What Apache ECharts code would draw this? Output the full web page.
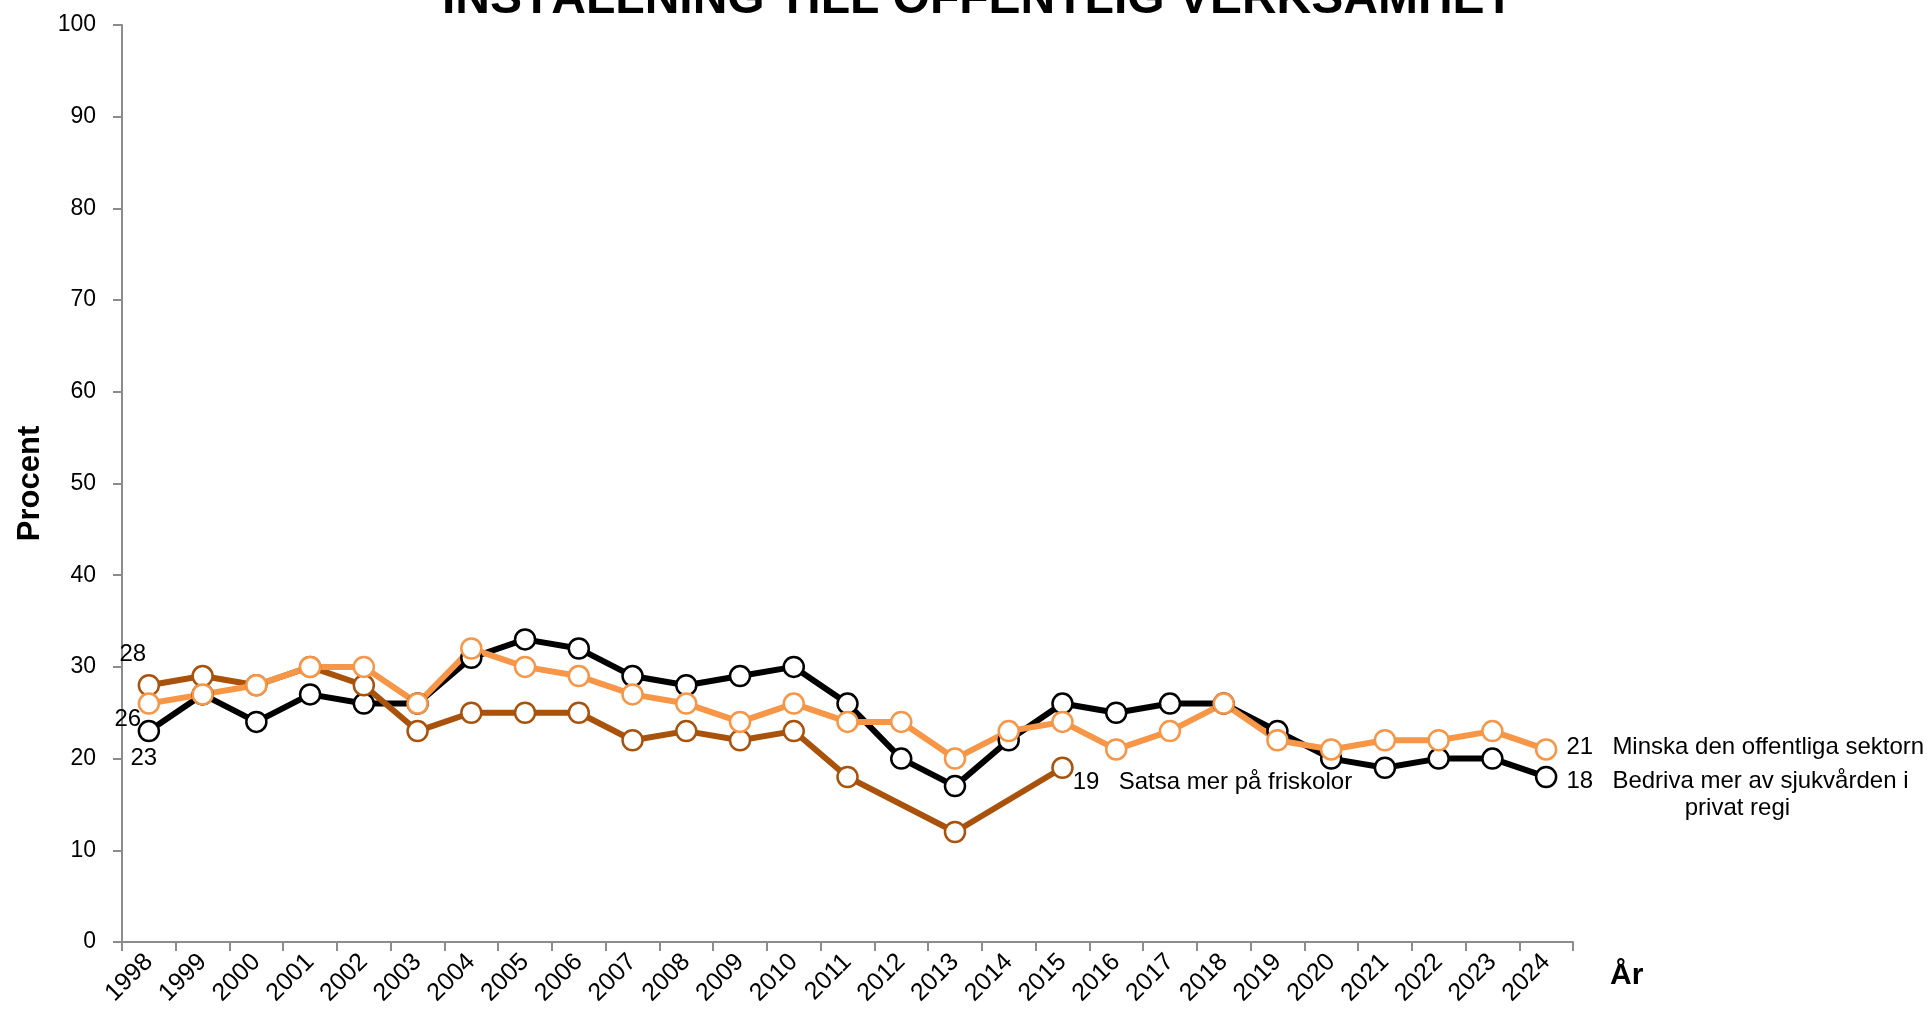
<!DOCTYPE html>
<html style="height: 100%">
<head>
    <meta charset="utf-8">
    <script src="https://cdn.jsdelivr.net/npm/echarts@6/dist/echarts.min.js"></script>
</head>
<body style="height: 100%; margin: 0; background: #fff">
    <div id="container" style="width: 1927px; height: 1016px"></div>
    <script type="text/javascript">
        var years = ['1998', '1999', '2000', '2001', '2002', '2003', '2004', '2005', '2006', '2007', '2008', '2009', '2010',
            '2011', '2012', '2013', '2014', '2015', '2016', '2017', '2018', '2019', '2020', '2021', '2022', '2023', '2024'];
        var yTicks = [0, 10, 20, 30, 40, 50, 60, 70, 80, 90, 100];

        // Bedriva mer av sjukvården i privat regi
        var privatRegi = [23, 27, 24, 27, 26, 26, 31, 33, 32, 29, 28, 29, 30, 26, 20, 17, 22, 26, 25, 26, 26, 23, 20, 19, 20, 20, 18];
        // Satsa mer på friskolor (saknas 2012, 2014 och efter 2015)
        var friskolor = [28, 29, 28, 30, 28, 23, 25, 25, 25, 22, 23, 22, 23, 18, null, 12, null, 19];
        // Minska den offentliga sektorn
        var minskaOffentlig = [26, 27, 28, 30, 30, 26, 32, 30, 29, 27, 26, 24, 26, 24, 24, 20, 23, 24, 21, 23, 26, 22, 21, 22, 22, 23, 21];

        var names = {
            privat: 'Bedriva mer av sjukvården i',
            privat2: 'privat regi',
            fri: 'Satsa mer på friskolor',
            minska: 'Minska den offentliga sektorn'
        };

        var FONT = '"Liberation Sans", Arial, sans-serif';
        var LABEL_SIZE = 24;

        function richStyle() {
            return {
                n: { fontSize: LABEL_SIZE, fontFamily: FONT, color: '#000', width: 46, lineHeight: 27 },
                t: { fontSize: LABEL_SIZE, fontFamily: FONT, color: '#000', lineHeight: 27, align: 'center' }
            };
        }

        // lägger etiketter på första och sista punkten
        function withLabels(values, startOffset, endFormatter, endOffset) {
            var lastIdx = -1;
            values.forEach(function (v, i) { if (v != null) lastIdx = i; });
            return values.map(function (v, i) {
                if (v == null) return null;
                if (i === 0) {
                    return {
                        value: v,
                        label: {
                            show: true, position: 'inside', offset: startOffset,
                            formatter: String(v), fontSize: LABEL_SIZE, fontFamily: FONT, color: '#000'
                        }
                    };
                }
                if (i === lastIdx) {
                    return {
                        value: v,
                        label: {
                            show: true, position: 'right', distance: 9, offset: endOffset,
                            formatter: endFormatter(v), rich: richStyle()
                        }
                    };
                }
                return v;
            });
        }

        function lineSeries(name, color, data) {
            return {
                name: name,
                type: 'line',
                data: data,
                connectNulls: true,
                symbol: 'circle',
                symbolSize: 20,
                lineStyle: { color: color, width: 6 },
                itemStyle: { color: '#fff', borderColor: color, borderWidth: 2.5 },
                emphasis: { disabled: true },
                animation: false
            };
        }

        var dom = document.getElementById("container");
        var myChart = echarts.init(dom);
        var option = {
            backgroundColor: '#fff',
            title: {
                text: 'INSTÄLLNING TILL OFFENTLIG VERKSAMHET',
                left: 442,
                top: -24,
                padding: 0,
                textStyle: { fontSize: 48, fontWeight: 'bold', fontFamily: FONT, color: '#000' }
            },
            grid: { left: 122, right: 354, top: 25, bottom: 74 },
            xAxis: {
                type: 'category',
                data: years,
                boundaryGap: true,
                name: 'År',
                nameLocation: 'end',
                nameGap: 37,
                nameTextStyle: {
                    fontSize: 30, fontWeight: 'bold', fontFamily: FONT, color: '#000',
                    verticalAlign: 'top', padding: [19, 0, 0, 0]
                },
                axisLine: { lineStyle: { color: '#8c8c8c', width: 2 } },
                axisTick: { show: true, length: 9, alignWithLabel: false, lineStyle: { color: '#8c8c8c', width: 2 } },
                axisLabel: { rotate: 45, margin: 16, fontSize: 25, fontFamily: FONT, color: '#000', interval: 0 },
                splitLine: { show: false }
            },
            yAxis: {
                type: 'value',
                min: yTicks[0],
                max: yTicks[yTicks.length - 1],
                interval: 10,
                name: 'Procent',
                nameLocation: 'middle',
                nameRotate: 90,
                nameGap: 76,
                nameTextStyle: { fontSize: 31, fontWeight: 'bold', fontFamily: FONT, color: '#000' },
                axisLine: { show: true, lineStyle: { color: '#8c8c8c', width: 2 } },
                axisTick: { show: true, length: 9, lineStyle: { color: '#8c8c8c', width: 2 } },
                axisLabel: { margin: 26, fontSize: 23, fontFamily: FONT, color: '#000' },
                splitLine: { show: false }
            },
            series: [
                lineSeries(names.privat, '#000000', withLabels(privatRegi, [-5, 27], function (v) {
                    return '{n|' + v + '}{t|' + names.privat + '}\n{t|' + names.privat2 + '}';
                }, [0, 18])),
                lineSeries(names.fri, '#A9520C', withLabels(friskolor, [-16, -31], function (v) {
                    return '{n|' + v + '}{t|' + names.fri + '}';
                }, [-10, 15])),
                lineSeries(names.minska, '#F79646', withLabels(minskaOffentlig, [-21, 16], function (v) {
                    return '{n|' + v + '}{t|' + names.minska + '}';
                }, [0, -2]))
            ]
        };
        myChart.setOption(option, true);
    </script>
</body>
</html>
